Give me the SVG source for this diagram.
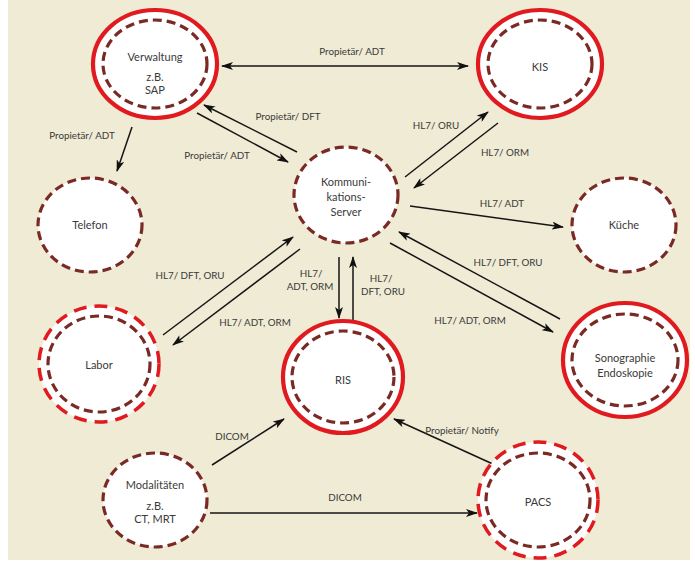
<svg xmlns="http://www.w3.org/2000/svg" width="695" height="565" viewBox="0 0 695 565">
<defs>
<marker id="ah" viewBox="0 0 12 8" refX="11" refY="4" markerWidth="12" markerHeight="8" markerUnits="userSpaceOnUse" orient="auto-start-reverse">
<path d="M0,0 L12,4 L0,8 L3,4 Z" fill="#111"/>
</marker>
</defs>
<style>
.bg{fill:#efebd4}
.fill{fill:#fff;stroke:none}
.ring{fill:none;stroke:#e01a1f;stroke-width:4.2}
.rdash{fill:none;stroke:#e01a1f;stroke-width:3.5;stroke-dasharray:13 8}
.inner{fill:none;stroke:#7a2a25;stroke-width:3.2;stroke-dasharray:9 5}
.t{font-family:"Lato","Open Sans","Liberation Sans",sans-serif;font-size:11px;fill:#3a3a3a;text-anchor:middle}
.l{font-family:"Lato","Open Sans","Liberation Sans",sans-serif;font-size:9.8px;fill:#3a3a3a;text-anchor:middle}
.c{stroke:#151515;stroke-width:1.5;fill:none;marker-end:url(#ah)}
.cc{stroke:#151515;stroke-width:1.5;fill:none;marker-end:url(#ah);marker-start:url(#ah)}
</style>
<rect x="0" y="0" width="695" height="565" fill="#fff"/>
<rect class="bg" x="8" y="0" width="682" height="560"/>

<g id="connectors">
<line class="cc" x1="222" y1="66" x2="468" y2="66"/>
<line class="c" x1="297" y1="152" x2="204" y2="105"/>
<line class="c" x1="197" y1="113" x2="288" y2="162"/>
<line class="c" x1="132" y1="127" x2="117" y2="171"/>
<line class="c" x1="405" y1="177" x2="488" y2="112"/>
<line class="c" x1="498" y1="123" x2="414" y2="188"/>
<line class="c" x1="410" y1="206" x2="563" y2="227"/>
<line class="c" x1="560" y1="319" x2="399" y2="232"/>
<line class="c" x1="390" y1="243" x2="553" y2="332"/>
<line class="c" x1="339" y1="257" x2="339" y2="318"/>
<line class="c" x1="353" y1="321" x2="353" y2="257"/>
<line class="c" x1="163" y1="335" x2="293" y2="237"/>
<line class="c" x1="300" y1="249" x2="173" y2="345"/>
<line class="c" x1="212" y1="465" x2="284" y2="419"/>
<line class="c" x1="210" y1="513" x2="477" y2="513"/>
<line class="c" x1="495" y1="465" x2="394" y2="419"/>
<text class="l" x="352" y="55">Propietär/ ADT</text>
<text class="l" x="288" y="120">Propietär/ DFT</text>
<text class="l" x="217" y="159">Propietär/ ADT</text>
<text class="l" x="82" y="139">Propietär/ ADT</text>
<text class="l" x="436" y="129">HL7/ ORU</text>
<text class="l" x="505" y="156">HL7/ ORM</text>
<text class="l" x="502" y="207">HL7/ ADT</text>
<text class="l" x="508" y="266">HL7/ DFT, ORU</text>
<text class="l" x="470" y="324">HL7/ ADT, ORM</text>
<text class="l" x="311" y="277">HL7/</text>
<text class="l" x="310" y="290">ADT, ORM</text>
<text class="l" x="381" y="282">HL7/</text>
<text class="l" x="383" y="295">DFT, ORU</text>
<text class="l" x="190" y="279">HL7/ DFT, ORU</text>
<text class="l" x="255" y="326">HL7/ ADT, ORM</text>
<text class="l" x="232" y="440">DICOM</text>
<text class="l" x="345" y="501">DICOM</text>
<text class="l" x="462" y="434">Propietär/ Notify</text>
</g>

<g id="verwaltung">
<ellipse class="fill" cx="155" cy="64" rx="62" ry="54"/>
<ellipse class="ring" cx="155" cy="64" rx="62" ry="54"/>
<ellipse class="inner" cx="155" cy="64" rx="52" ry="44"/>
<text class="t" x="155" y="61">Verwaltung</text>
<text class="t" x="155" y="81">z.B.</text>
<text class="t" x="155" y="94">SAP</text>
</g>

<g id="kis">
<ellipse class="fill" cx="540" cy="64" rx="62" ry="54"/>
<ellipse class="ring" cx="540" cy="64" rx="62" ry="54"/>
<ellipse class="inner" cx="540" cy="64" rx="52" ry="44"/>
<text class="t" x="540" y="71">KIS</text>
</g>

<g id="server">
<ellipse class="fill" cx="346" cy="195" rx="52" ry="48"/>
<ellipse class="inner" cx="346" cy="195" rx="52" ry="48"/>
<text class="t" x="346" y="186">Kommuni-</text>
<text class="t" x="346" y="201">kations-</text>
<text class="t" x="346" y="216">Server</text>
</g>

<g id="telefon">
<ellipse class="fill" cx="90" cy="225" rx="52" ry="47"/>
<ellipse class="inner" cx="90" cy="225" rx="52" ry="47"/>
<text class="t" x="90" y="229">Telefon</text>
</g>

<g id="kueche">
<ellipse class="fill" cx="624" cy="225" rx="52" ry="47"/>
<ellipse class="inner" cx="624" cy="225" rx="52" ry="47"/>
<text class="t" x="624" y="229">Küche</text>
</g>

<g id="labor">
<ellipse class="fill" cx="99" cy="364" rx="60" ry="58"/>
<ellipse class="rdash" cx="99" cy="364" rx="60" ry="58"/>
<ellipse class="inner" cx="99" cy="364" rx="51" ry="48"/>
<text class="t" x="99" y="369">Labor</text>
</g>

<g id="ris">
<ellipse class="fill" cx="343" cy="377" rx="60" ry="56"/>
<ellipse class="ring" cx="343" cy="377" rx="60" ry="56"/>
<ellipse class="inner" cx="343" cy="377" rx="51" ry="46"/>
<text class="t" x="343" y="384">RIS</text>
</g>

<g id="sonographie">
<ellipse class="fill" cx="625" cy="360" rx="62" ry="57"/>
<ellipse class="ring" cx="625" cy="360" rx="62" ry="57"/>
<ellipse class="inner" cx="625" cy="360" rx="53" ry="46"/>
<text class="t" x="625" y="362">Sonographie</text>
<text class="t" x="625" y="377">Endoskopie</text>
</g>

<g id="pacs">
<ellipse class="fill" cx="538" cy="500" rx="60" ry="58"/>
<ellipse class="rdash" cx="538" cy="500" rx="60" ry="58"/>
<ellipse class="inner" cx="538" cy="500" rx="52" ry="47"/>
<text class="t" x="538" y="506">PACS</text>
</g>

<g id="modalitaeten">
<ellipse class="fill" cx="155" cy="500" rx="52" ry="47"/>
<ellipse class="inner" cx="155" cy="500" rx="52" ry="47"/>
<text class="t" x="155" y="489">Modalitäten</text>
<text class="t" x="155" y="510">z.B.</text>
<text class="t" x="155" y="523">CT, MRT</text>
</g>
</svg>
